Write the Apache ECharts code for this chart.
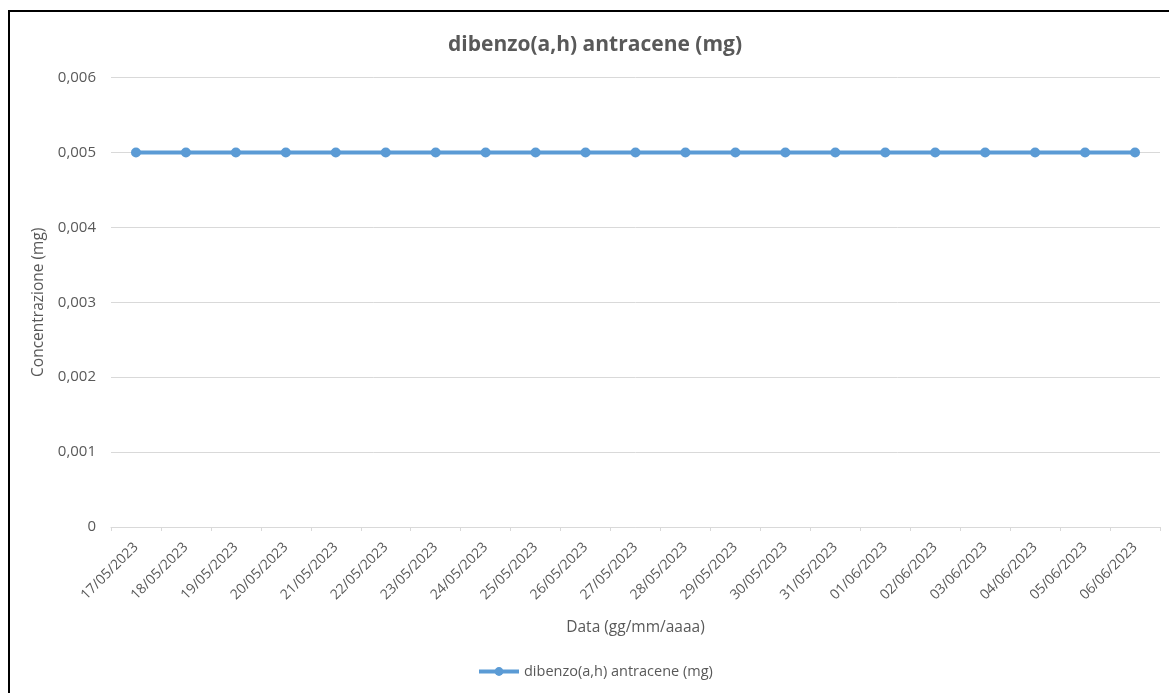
<!DOCTYPE html>
<html><head><meta charset="utf-8">
<script src="https://cdn.jsdelivr.net/npm/echarts@6/dist/echarts.min.js"></script>
<style>
html,body{margin:0;padding:0;background:#fff;overflow:hidden}
#frame{position:absolute;left:8px;top:10px;width:1200px;height:720px;border:2px solid #000;box-sizing:border-box}
#c{position:absolute;left:0;top:0;width:1169px;height:693px}
</style></head>
<body><div id="frame"></div><div id="c"></div>
<script>
const categories = ["17/05/2023","18/05/2023","19/05/2023","20/05/2023","21/05/2023","22/05/2023","23/05/2023","24/05/2023","25/05/2023","26/05/2023","27/05/2023","28/05/2023","29/05/2023","30/05/2023","31/05/2023","01/06/2023","02/06/2023","03/06/2023","04/06/2023","05/06/2023","06/06/2023"];
const values = [0.005,0.005,0.005,0.005,0.005,0.005,0.005,0.005,0.005,0.005,0.005,0.005,0.005,0.005,0.005,0.005,0.005,0.005,0.005,0.005,0.005];
const seriesName = "dibenzo(a,h) antracene (mg)";
const yTicks = [0,0.001,0.002,0.003,0.004,0.005,0.006];

const font = "'Open Sans', 'Noto Sans', sans-serif";
const chart = echarts.init(document.getElementById('c'));
chart.setOption({
  animation:false,
  textStyle:{fontFamily:font},
  title:{text:"dibenzo(a,h) antracene (mg)",left:443,top:30,
    textStyle:{fontFamily:font,fontSize:21,fontWeight:'bold',color:'#595959'}},
  grid:{left:111,right:9,top:77.5,bottom:166},
  legend:{bottom:9,left:472,itemWidth:40,itemHeight:11,itemGap:4,
    lineStyle:{width:4},
    textStyle:{fontFamily:font,fontSize:14.5,color:'#595959'},
    data:[{name:seriesName}]},
  xAxis:{type:'category',data:categories,boundaryGap:true,
    name:"Data (gg/mm/aaaa)",nameLocation:'middle',nameGap:93,
    nameTextStyle:{fontFamily:font,fontSize:15.5,color:'#595959'},
    axisLine:{lineStyle:{color:'#d9d9d9',width:1}},
    axisTick:{show:true,alignWithLabel:false,length:4,lineStyle:{color:'#d9d9d9'}},
    axisLabel:{rotate:45,fontFamily:font,fontSize:14,color:'#595959',margin:18,interval:0}},
  yAxis:{type:'value',min:0,max:0.006,interval:0.001,
    name:"Concentrazione (mg)",nameLocation:'middle',nameGap:59,
    nameTextStyle:{fontFamily:font,fontSize:15.5,color:'#595959'},
    axisLine:{show:false},axisTick:{show:false},
    splitLine:{lineStyle:{color:'#d9d9d9',width:1}},
    axisLabel:{fontFamily:font,fontSize:15,color:'#595959',margin:15,
      formatter:v=>{ if(v===0) return '0'; const t=yTicks.find(x=>Math.abs(x-v)<1e-9); return (t!==undefined?t:v).toFixed(3).replace('.',','); }}},
  series:[{name:seriesName,type:'line',data:values,
    lineStyle:{color:'#5B9BD5',width:4},
    itemStyle:{color:'#5B9BD5'},
    symbol:'circle',symbolSize:10}]
});
</script></body></html>
